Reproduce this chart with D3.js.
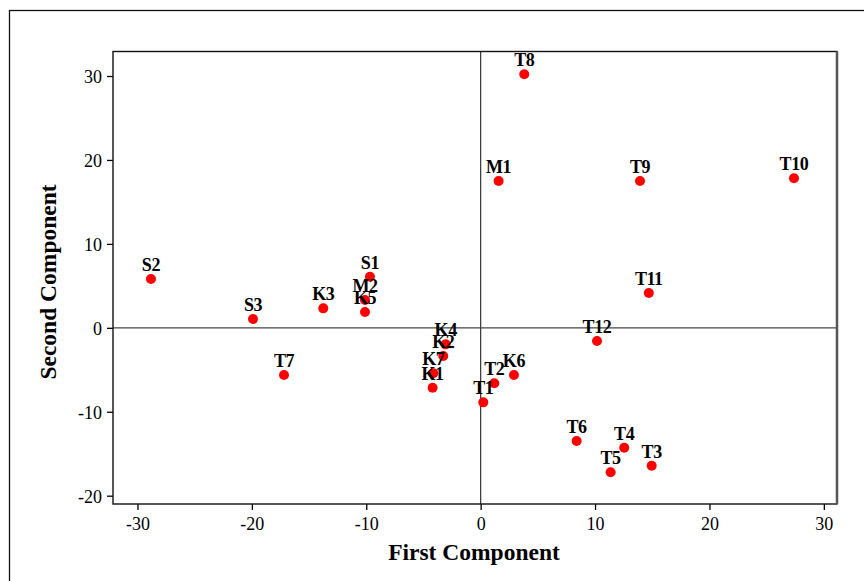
<!DOCTYPE html>
<html>
<head>
<meta charset="utf-8">
<script src="https://cdn.jsdelivr.net/npm/d3@7"></script>
<style>
  body { margin: 0; background: #fff; }
  svg { display: block; }
</style>
</head>
<body>
<svg id="chart" width="864" height="581"></svg>
<script>
// point labels and scores
let labels = ["T8", "M1", "T9", "T10", "S2", "S1", "T11", "K3", "M2", "K5", "S3", "T12",
  "K4", "K2", "K7", "K1", "T2", "T1", "K6", "T7", "T6", "T4", "T5", "T3"];
let firstComp = [3.81, 1.57, 13.93, 27.39, -28.82, -9.68, 14.70, -13.76, -10.11, -10.11, -19.90, 10.17,
  -3.06, -3.27, -4.14, -4.20, 1.19, 0.23, 2.91, -17.19, 8.39, 12.55, 11.36, 14.95];
let secondComp = [30.20, 17.49, 17.49, 17.81, 5.81, 6.09, 4.15, 2.32, 3.31, 1.88, 1.05, -1.57,
  -1.97, -3.36, -5.42, -7.14, -6.61, -8.88, -5.62, -5.62, -13.49, -14.28, -17.21, -16.43];
let xTicks = [-30, -20, -10, 0, 10, 20, 30];
let yTicks = [-20, -10, 0, 10, 20, 30];

let data = labels.map((d, i) => ({ label: d, x: firstComp[i], y: secondComp[i] }));

let leftEdge = 113,
  topEdge = 51.5,
  rightEdge = 837,
  bottomEdge = 504;

let svg = d3.select("#chart");
let font = "'Liberation Serif', 'Times New Roman', serif";

// outer frame (runs off the window at right and bottom)
svg.append("rect")
  .attr("x", 9.5)
  .attr("y", 10.5)
  .attr("width", 900)
  .attr("height", 600)
  .attr("fill", "none")
  .attr("stroke", "#111")
  .attr("stroke-width", 1.3);

let xScale = d3.scaleLinear().domain([-32.14, 31.15]).range([leftEdge, rightEdge]);
let yScale = d3.scaleLinear().domain([-20.99, 32.92]).range([bottomEdge, topEdge]);

let fmt = (d) => String(d).replace("\u2212", "-");

// x axis
let xAxis = d3.axisBottom(xScale).tickValues(xTicks).tickSize(6).tickSizeOuter(0).tickFormat(fmt);
let gx = svg.append("g")
  .attr("transform", `translate(0,${bottomEdge})`)
  .call(xAxis);
gx.select(".domain").remove();
gx.selectAll("line").attr("stroke", "#000").attr("stroke-width", 1.3);
gx.selectAll("text")
  .attr("y", 13)
  .attr("dy", "0.71em")
  .style("font-family", font)
  .style("font-size", "18px")
  .style("fill", "#000");

// y axis
let yAxis = d3.axisLeft(yScale).tickValues(yTicks).tickSize(6).tickSizeOuter(0).tickFormat(fmt);
let gy = svg.append("g")
  .attr("transform", `translate(${leftEdge},0)`)
  .call(yAxis);
gy.select(".domain").remove();
gy.selectAll("line").attr("stroke", "#000").attr("stroke-width", 1.3);
gy.selectAll("text")
  .attr("x", -11)
  .attr("dy", "0.38em")
  .style("font-family", font)
  .style("font-size", "18px")
  .style("fill", "#000");

// reference lines at zero
svg.append("line")
  .attr("x1", xScale(0)).attr("x2", xScale(0))
  .attr("y1", topEdge).attr("y2", bottomEdge)
  .attr("stroke", "#333")
  .attr("stroke-width", 1.2);
svg.append("line")
  .attr("x1", leftEdge).attr("x2", rightEdge)
  .attr("y1", yScale(0)).attr("y2", yScale(0))
  .attr("stroke", "#444")
  .attr("stroke-width", 1.2);

// plot box
svg.append("rect")
  .attr("x", leftEdge)
  .attr("y", topEdge)
  .attr("width", rightEdge - leftEdge)
  .attr("height", bottomEdge - topEdge)
  .attr("fill", "none")
  .attr("stroke", "#111")
  .attr("stroke-width", 1.4);
svg.append("line")
  .attr("x1", rightEdge).attr("x2", rightEdge)
  .attr("y1", topEdge).attr("y2", bottomEdge)
  .attr("stroke", "#555")
  .attr("stroke-width", 2.5);

// points
svg.selectAll(".pt")
  .data(data)
  .enter()
  .append("circle")
  .attr("class", "pt")
  .attr("cx", (d) => xScale(d.x))
  .attr("cy", (d) => yScale(d.y))
  .attr("r", 5)
  .style("fill", "#ff0000");

// point labels
svg.selectAll(".lbl")
  .data(data)
  .enter()
  .append("text")
  .attr("class", "lbl")
  .attr("x", (d) => xScale(d.x))
  .attr("y", (d) => yScale(d.y) - 8)
  .attr("text-anchor", "middle")
  .text((d) => d.label)
  .style("font-family", font)
  .style("font-size", "18px")
  .style("font-weight", "bold")
  .style("letter-spacing", "-0.4px")
  .style("fill", "#000");

// axis titles
svg.append("text")
  .attr("x", 474)
  .attr("y", 560)
  .attr("text-anchor", "middle")
  .text("First Component")
  .style("font-family", font)
  .style("font-size", "23.5px")
  .style("font-weight", "bold");

svg.append("text")
  .attr("transform", "translate(56,282) rotate(-90)")
  .attr("text-anchor", "middle")
  .text("Second Component")
  .style("font-family", font)
  .style("font-size", "23.5px")
  .style("font-weight", "bold");
</script>
</body>
</html>
